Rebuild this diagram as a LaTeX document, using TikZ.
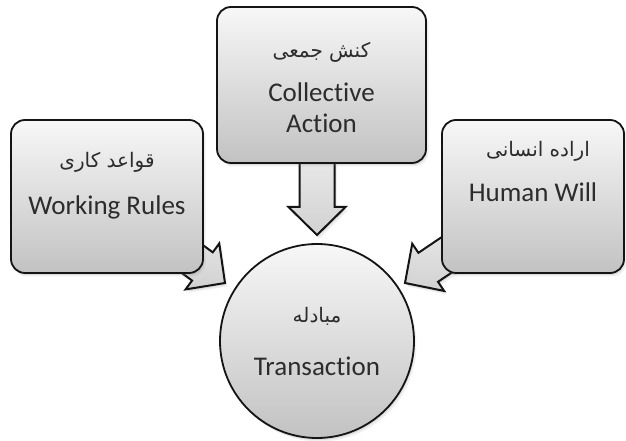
\documentclass[tikz,border=0pt]{standalone}
\usepackage{fontspec}
\setmainfont{Carlito}[Ligatures={NoCommon,NoRare}]
\newfontfamily\farsi[Script=Arabic]{DejaVu Sans}
\TeXXeTstate=1
\usetikzlibrary{calc,shadows}

\definecolor{ink}{HTML}{141414}
\definecolor{paper}{HTML}{F7F7F7}
\definecolor{greyish}{HTML}{C2C2C2}

% block arrow from #1 (hidden under a box) to the tip #2
\newcommand{\fatarrow}[2]{%
  \coordinate (hb) at ($(#2)!28pt!(#1)$);
  \path[flow] ($(#1)!17.5pt!90:(#2)$) -- ($(hb)!17.5pt!90:(#2)$)
    -- ($(hb)!28.5pt!90:(#2)$) -- (#2) -- ($(hb)!28.5pt!-90:(#2)$)
    -- ($(hb)!17.5pt!-90:(#2)$) -- ($(#1)!17.5pt!-90:(#2)$) -- cycle;}

\begin{document}
\begin{tikzpicture}[x=1pt,y=1pt,line width=1.8pt,
  soft/.style={drop shadow={shadow xshift=1pt,shadow yshift=-2pt,opacity=0.18},
    drop shadow={shadow xshift=2.5pt,shadow yshift=-3.5pt,opacity=0.12}},
  box/.style={draw=ink,rounded corners=14pt,top color=paper,bottom color=greyish,soft},
  hub/.style={circle,draw=ink,top color=paper,bottom color=greyish,minimum size=194pt,soft},
  flow/.style={top color=paper,bottom color=greyish!75,soft,
    postaction={draw=ink,line width=2pt,line join=miter}},
  en/.style={font=\fontsize{27}{30}\selectfont,text=ink!90,anchor=base,inner sep=0pt},
  fa/.style={font=\farsi\fontsize{20}{24}\selectfont,text=ink!90,anchor=base,inner sep=0pt}]

  \useasboundingbox (0,0) rectangle (626,441);

  \coordinate (rulesc) at (107,244.5);
  \coordinate (actionc) at (321.5,356);
  \coordinate (willc) at (533,244.5);

  \coordinate (tipL) at (225,158);
  \coordinate (tipT) at (317,206);
  \coordinate (tipR) at (405,158);
  \coordinate (srcT) at (317,330);

  \fatarrow{rulesc}{tipL}
  \fatarrow{srcT}{tipT}
  \fatarrow{willc}{tipR}

  \node[box,minimum width=192pt,minimum height=153pt] (rules) at (rulesc) {};
  \node[box,minimum width=209pt,minimum height=156pt] (action) at (actionc) {};
  \node[box,minimum width=182pt,minimum height=153pt] (will) at (willc) {};
  \node[hub] (deal) at (317,100) {};

  \node[fa] (rulesfa) at ([yshift=-48pt]rules.north) {\beginR قواعد کاری\endR};
  \node[en] (rulesen) at ([yshift=-95pt]rules.north) {Working Rules};

  \node[fa] (actionfa) at ([yshift=-51pt]action.north) {\beginR کنش جمعی\endR};
  \node[en] (action1) at ([yshift=-95pt]action.north) {Collective};
  \node[en] (action2) at ([yshift=-126pt]action.north) {Action};

  \node[fa] (willfa) at ([xshift=5pt,yshift=-37pt]will.north) {\beginR اراده انسانی\endR};
  \node[en] (willen) at ([yshift=-82pt]will.north) {Human Will};

  \node[fa] (dealfa) at ([yshift=-79pt]deal.north) {\beginR مبادله\endR};
  \node[en] (dealen) at ([yshift=-132pt]deal.north) {Transaction};
\end{tikzpicture}
\end{document}
